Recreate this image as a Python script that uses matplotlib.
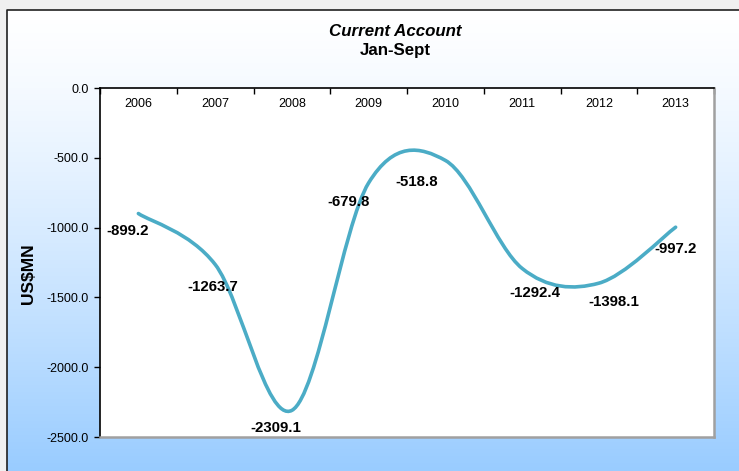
import matplotlib
matplotlib.use("Agg")
import matplotlib.pyplot as plt
from matplotlib.path import Path
from matplotlib.patches import PathPatch
from matplotlib import font_manager
import numpy as np

years = ['2006', '2007', '2008', '2009', '2010', '2011', '2012', '2013']
values = [-899.2, -1263.7, -2309.1, -679.8, -518.8, -1292.4, -1398.1, -997.2]
yticks = [0, -500, -1000, -1500, -2000, -2500]
# label offsets from each point, in pixels (dx, dy)
label_offsets = [(-11, -17), (-2, -23), (-16, -18), (-20, -19),
                 (-29, -22), (13, -25), (15, -19), (0, -22)]

installed = {f.name for f in font_manager.fontManager.ttflist}
has_narrow = 'Liberation Sans Narrow' in installed
fam = (['Liberation Sans Narrow'] if has_narrow else []) + ['Liberation Sans', 'DejaVu Sans']
plt.rcParams['font.family'] = fam
# sizes tuned so a regular-width font fills about the same width as Arial Narrow
k = 1.0 if has_narrow else 0.9

W, H = 739, 471
fig = plt.figure(figsize=(W / 100, H / 100), dpi=100)

# background: grey margin, framed gradient panel
bg = fig.add_axes([0, 0, 1, 1], zorder=-10)
bg.set_xlim(0, W)
bg.set_ylim(H, 0)
bg.axis('off')
bg.add_patch(plt.Rectangle((0, 0), W, H, color='#f0f0f0'))
grad = np.linspace(0, 1, 256) ** 1.3
top = np.array([1.0, 1.0, 1.0])
bot = np.array([0x99, 0xcc, 0xff]) / 255
img = top[None, None, :] * (1 - grad[:, None, None]) + bot[None, None, :] * grad[:, None, None]
bg.imshow(img, extent=[7, W, H, 10], aspect='auto', zorder=1)
bg.plot([7, 7, W], [H, 10, 10], color='#202020', lw=1.2, zorder=2)

ax = fig.add_axes([100 / W, 1 - 437 / H, 614 / W, 349 / H])
ax.set_facecolor('white')
x = np.arange(len(values))
ax.set_xlim(-0.5, len(values) - 0.5)
ax.set_ylim(-2500, 0)

# Excel-style smoothed line (Catmull-Rom as cubic Bezier)
pts = np.column_stack([x, values])
ext = np.vstack([pts[0], pts, pts[-1]])
verts = [tuple(pts[0])]
codes = [Path.MOVETO]
for i in range(len(pts) - 1):
    p0, p1, p2, p3 = ext[i], ext[i + 1], ext[i + 2], ext[i + 3]
    c1 = p1 + (p2 - p0) / 6
    c2 = p2 - (p3 - p1) / 6
    verts += [tuple(c1), tuple(c2), tuple(p2)]
    codes += [Path.CURVE4] * 3
ax.add_patch(PathPatch(Path(verts, codes), facecolor='none',
                       edgecolor='#4bacc6', lw=2.6, capstyle='round', zorder=3))

for xi, v, (dx, dy) in zip(x, values, label_offsets):
    ax.annotate(f'{v:.1f}', (xi, v), xytext=(dx, dy), textcoords='offset pixels',
                ha='center', va='center', fontsize=12 * k, fontweight='bold', zorder=4)

# spines
ax.spines['top'].set_color('black')
ax.spines['top'].set_linewidth(1.2)
ax.spines['left'].set_color('black')
ax.spines['left'].set_linewidth(1.2)
for s in ['right', 'bottom']:
    ax.spines[s].set_color('#a0a0a0')
    ax.spines[s].set_linewidth(1.8)

ax.set_yticks(yticks)
ax.set_yticklabels([f'{t:.1f}' for t in yticks])
ax.tick_params(axis='y', direction='out', length=4, width=1, labelsize=10 * k, pad=4)

ax.set_xticks(np.arange(len(values) + 1) - 0.5)
ax.set_xticklabels([])
ax.set_xticks(x, minor=True)
ax.set_xticklabels(years, minor=True)
ax.tick_params(axis='x', which='major', top=True, bottom=False, direction='in',
               length=4, width=1, labeltop=False, labelbottom=False)
ax.tick_params(axis='x', which='minor', top=True, bottom=False, length=0,
               labeltop=True, labelbottom=False, labelsize=10 * k, pad=-16)

fig.text(395 / W, 1 - 31 / H, 'Current Account', ha='center', va='center',
         fontsize=13.5 * k, fontweight='bold', fontstyle='italic')
fig.text(395 / W, 1 - 51 / H, 'Jan-Sept', ha='center', va='center',
         fontsize=13.5 * k, fontweight='bold')
fig.text(28 / W, 1 - 274 / H, 'US$MN', ha='center', va='center', rotation=90,
         fontsize=12.5, fontweight='bold', family=['Liberation Sans', 'DejaVu Sans'])

fig.savefig('out.png', dpi=100)
